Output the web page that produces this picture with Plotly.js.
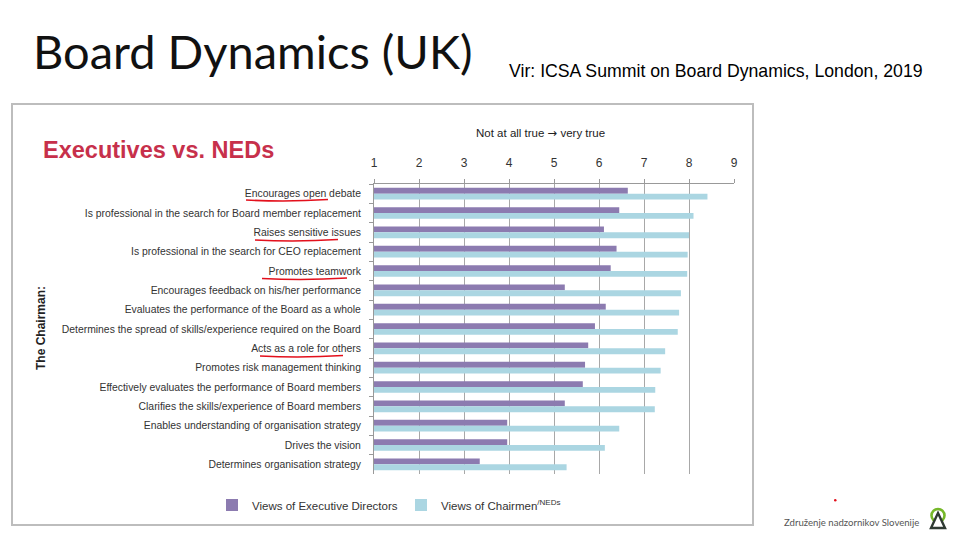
<!DOCTYPE html>
<html>
<head>
<meta charset="utf-8">
<script src="https://cdn.plot.ly/plotly-3.0.1.min.js"></script>
<style>html,body{margin:0;padding:0;background:#fff;}#chart{width:960px;height:540px;}</style>
</head>
<body>
<div id="chart"></div>
<script>
const categories = [
  "Encourages open debate",
  "Is professional in the search for Board member replacement",
  "Raises sensitive issues",
  "Is professional in the search for CEO replacement",
  "Promotes teamwork",
  "Encourages feedback on his/her performance",
  "Evaluates the performance of the Board as a whole",
  "Determines the spread of skills/experience required on the Board",
  "Acts as a role for others",
  "Promotes risk management thinking",
  "Effectively evaluates the performance of Board members",
  "Clarifies the skills/experience of Board members",
  "Enables understanding of organisation strategy",
  "Drives the vision",
  "Determines organisation strategy"
];
const executiveViews = [6.64, 6.45, 6.11, 6.39, 6.26, 5.24, 6.15, 5.91, 5.76, 5.69, 5.64, 5.24, 3.96, 3.96, 3.35];
const chairmenViews  = [8.41, 8.10, 8.00, 7.97, 7.96, 7.82, 7.78, 7.75, 7.47, 7.37, 7.25, 7.24, 6.45, 6.13, 5.28];
const tickVals = [1, 2, 3, 4, 5, 6, 7, 8, 9];
const seriesNames = ["Views of Executive Directors", "Views of Chairmen<sup>/NEDs</sup>"];

// plot area in pixels
const L = 374, R = 734, T = 184, B = 474;
const px = x => (x - L) / (R - L);
const py = y => (B - y) / (B - T);

const FONT = "Liberation Sans, Arial, sans-serif";

const traces = [
  {type: "bar", orientation: "h", name: seriesNames[0], y: categories, x: executiveViews,
   marker: {color: "#8c7bb0"}, hoverinfo: "x"},
  {type: "bar", orientation: "h", name: seriesNames[1], y: categories, x: chairmenViews,
   marker: {color: "#abd6e2"}, hoverinfo: "x"}
];

function underline(x0, x1, y) {
  const a = px(x0), b = px(x1), m = px((x0 + x1) / 2);
  return {type: "path", xref: "paper", yref: "paper",
    path: `M ${a} ${py(y)} Q ${m} ${py(y + 2.2)} ${b} ${py(y - 0.5)}`,
    line: {color: "#e3101c", width: 1.6}};
}

const shapes = [
  {type: "rect", xref: "paper", yref: "paper", x0: px(12), x1: px(753), y0: py(104), y1: py(525),
   line: {color: "#bdbdbd", width: 2}, layer: "below"},
  underline(246, 328, 200),
  underline(255, 338, 240),
  underline(262, 347, 278.5),
  underline(260, 343, 356),
  // small red dot
  {type: "circle", xref: "paper", yref: "paper", x0: px(834), x1: px(836.5), y0: py(499), y1: py(501.5),
   fillcolor: "#e3101c", line: {width: 0}},
  // logo ring
  {type: "circle", xref: "paper", yref: "paper", x0: px(931.5), x1: px(944.5), y0: py(522), y1: py(509),
   line: {color: "#76b82a", width: 2.6}},
  {type: "path", xref: "paper", yref: "paper",
   path: `M ${px(938)} ${py(513)} L ${px(945)} ${py(528)} L ${px(931)} ${py(528)} Z`,
   fillcolor: "#ffffff", line: {color: "#2f3a33", width: 2.4}}
];

const annotations = [
  {text: "Board Dynamics (UK)", xref: "paper", yref: "paper", x: px(31), y: py(51),
   xanchor: "left", yanchor: "middle", showarrow: false,
   font: {family: "Lato, Carlito, sans-serif", size: 47, color: "#111"}},
  {text: "Vir: ICSA Summit on Board Dynamics, London, 2019", xref: "paper", yref: "paper",
   x: px(507), y: py(71), xanchor: "left", yanchor: "middle", showarrow: false,
   font: {family: FONT, size: 17.7, color: "#000"}},
  {text: "<b>Executives vs. NEDs</b>", xref: "paper", yref: "paper", x: px(41), y: py(150),
   xanchor: "left", yanchor: "middle", showarrow: false,
   font: {family: FONT, size: 23.5, color: "#c7304b"}},
  {text: "Not at all true <span style=\"font-family:DejaVu Sans\">\u2192</span> very true", xref: "paper", yref: "paper", x: px(540), y: py(133),
   xanchor: "center", yanchor: "middle", showarrow: false,
   font: {family: FONT, size: 11.5, color: "#222"}},
  {text: "<b>The Chairman:</b>", xref: "paper", yref: "paper", x: px(41), y: py(328),
   xanchor: "center", yanchor: "middle", textangle: -90, showarrow: false,
   font: {family: FONT, size: 12, color: "#222"}},
  {text: "Združenje nadzornikov Slovenije", xref: "paper", yref: "paper", x: px(782), y: py(522),
   xanchor: "left", yanchor: "middle", showarrow: false,
   font: {family: "Lato, sans-serif", size: 9.6, color: "#555"}}
];

const layout = {
  width: 960, height: 540,
  margin: {l: L, r: 960 - R, t: T, b: 540 - B, pad: 0},
  paper_bgcolor: "#fff", plot_bgcolor: "#fff",
  barmode: "group", bargap: 0.4, bargroupgap: 0,
  showlegend: true,
  legend: {orientation: "h", x: px(212), xanchor: "left", y: py(505), yanchor: "middle",
    font: {family: FONT, size: 11.5, color: "#333"}, itemwidth: 30, entrywidth: 144,
    entrywidthmode: "pixels", bgcolor: "rgba(0,0,0,0)", traceorder: "normal"},
  xaxis: {side: "top", range: [1, 9], tickvals: tickVals, showgrid: true, gridcolor: "#a8a8a8",
    gridwidth: 1, zeroline: false, showline: true, linecolor: "#999", ticks: "outside",
    ticklen: 4, tickcolor: "#999", ticklabelstandoff: 7,
    tickfont: {family: FONT, size: 12, color: "#333"}, fixedrange: true},
  yaxis: {type: "category", autorange: "reversed", showgrid: false, zeroline: false,
    showline: true, linecolor: "#999", ticks: "outside", tickson: "boundaries", ticklen: 4,
    tickcolor: "#999", ticklabelstandoff: 10,
    tickfont: {family: FONT, size: 10.4, color: "#333"}, fixedrange: true},
  shapes: shapes,
  annotations: annotations
};

Plotly.newPlot("chart", traces, layout, {displayModeBar: false, staticPlot: true});
</script>
</body>
</html>
